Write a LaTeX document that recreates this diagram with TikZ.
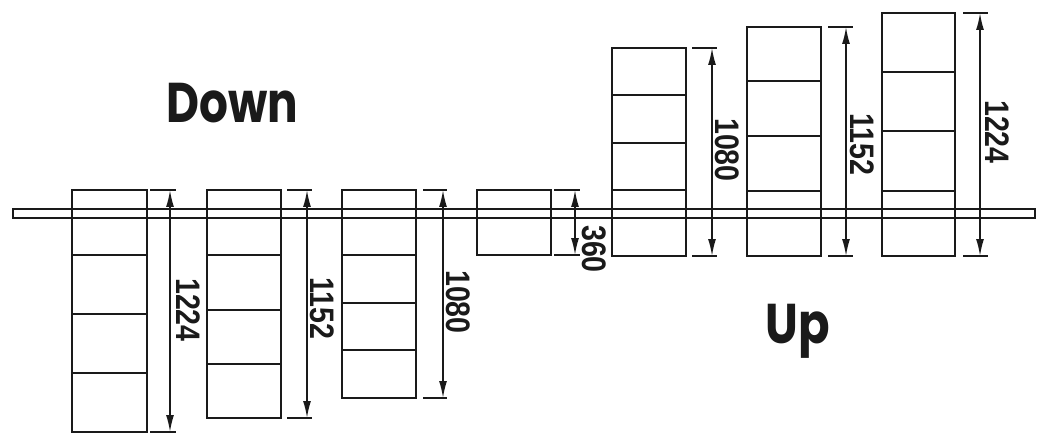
\documentclass[tikz,border=0pt]{standalone}
\usepackage{fontspec}
\setmainfont{Liberation Sans}
\newfontfamily\titlefont{Poppins}
\usetikzlibrary{arrows.meta}
\definecolor{ink}{HTML}{1A1A1A}
\newcommand\dimline[9]{%
  \coordinate (#1t) at (#2,#5);
  \coordinate (#1b) at (#2,#6);
  \draw[tickline] (#3,#5) -- (#4,#5);
  \draw[tickline] (#3,#6) -- (#4,#6);
  \draw[dimarrow] (#1t) -- (#1b);
  \node[dimlabel] (#1l) at (#7,#8) {\scalebox{0.84}[1]{#9}};}
\begin{document}
\begin{tikzpicture}[x=1pt,y=-1pt,
  tip/.tip={Latex[length=17pt,width=8pt]},
  box/.style={draw=ink,line width=2.4pt,line join=miter},
  rail/.style={draw=ink,line width=2pt},
  shelf/.style={draw=ink,line width=2pt},
  tickline/.style={draw=ink,line width=1.6pt},
  dimarrow/.style={draw=ink,line width=1.6pt,arrows={tip-tip}},
  dimlabel/.style={rotate=-90,inner sep=0pt,text=ink,font=\bfseries\fontsize{34}{34}\selectfont},
  title/.style={inner sep=0pt,anchor=base,text=ink,font=\titlefont\bfseries\fontsize{56}{56}\selectfont}]
\useasboundingbox (0,0) rectangle (1048,446);
% rail
\draw[rail] (13,209) rectangle (1035,218);
% Down cabinets
\draw[box] (72,190) rectangle (147,432);
\draw[shelf] (72,255) -- (147,255) (72,314) -- (147,314) (72,373) -- (147,373);
\draw[box] (207,190) rectangle (281,418);
\draw[shelf] (207,255) -- (281,255) (207,310) -- (281,310) (207,364) -- (281,364);
\draw[box] (342,190) rectangle (416,398);
\draw[shelf] (342,255) -- (416,255) (342,303) -- (416,303) (342,350) -- (416,350);
\draw[box] (477,190) rectangle (551,255);
% Up cabinets
\draw[box] (612,48) rectangle (686,256);
\draw[shelf] (612,95) -- (686,95) (612,143) -- (686,143) (612,190) -- (686,190);
\draw[box] (747,27) rectangle (821,256);
\draw[shelf] (747,81) -- (821,81) (747,136) -- (821,136) (747,191) -- (821,191);
\draw[box] (882,13) rectangle (955,256);
\draw[shelf] (882,72) -- (955,72) (882,131) -- (955,131) (882,191) -- (955,191);
% dimensions
\dimline{da}{170}{150}{176}{190}{432}{188}{310}{1224}
\dimline{db}{307}{287}{312}{190}{418}{322}{308}{1152}
\dimline{dc}{443}{423}{447}{190}{398}{458}{302}{1080}
\dimline{dd}{575}{554}{580}{190}{255}{594}{249}{360}
\dimline{de}{712}{692}{717}{48}{256}{727}{150}{1080}
\dimline{df}{846}{828}{853}{27}{256}{862}{144}{1152}
\dimline{dg}{980}{963}{988}{13}{256}{997}{132}{1224}
% titles
\node[title] (down) at (232,123) {\scalebox{0.81}[1]{Down}};
\node[title] (up) at (798,343) {\scalebox{0.83}[1]{Up}};
\end{tikzpicture}
\end{document}
